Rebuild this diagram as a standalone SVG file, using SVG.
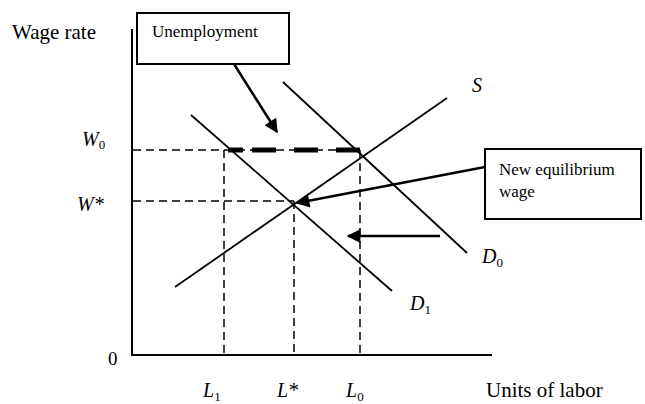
<svg xmlns="http://www.w3.org/2000/svg" width="645" height="404" viewBox="0 0 645 404">
<style>
text{font-family:"Liberation Serif","Times New Roman",serif;fill:#000}
.lbl{font-size:21px}
.box{fill:#fff;stroke:#000;stroke-width:2}
.bt{font-size:17px}
.it{font-style:italic;font-size:20px}
.sub{font-size:13px;font-style:normal}
.axis{stroke:#000;stroke-width:2;fill:none}
.curve{stroke:#000;stroke-width:1.8;fill:none}
.dash{stroke:#000;stroke-width:1.5;stroke-dasharray:8 5;fill:none}
.thick{stroke:#000;stroke-width:5;fill:none}
.arr{stroke:#000;stroke-width:2.5;fill:none}
</style>
<defs>
<marker id="ah" viewBox="0 0 10 10" refX="10" refY="5" markerWidth="7" markerHeight="5.5" orient="auto" markerUnits="userSpaceOnUse">
<path d="M0,0 L10,5 L0,10 z" fill="#000"/>
</marker>
<marker id="ah2" viewBox="0 0 10 10" refX="9" refY="5" markerWidth="6.5" markerHeight="5.5" orient="auto">
<path d="M0,0 L10,5 L0,10 z" fill="#000"/>
</marker>
</defs>
<rect width="645" height="404" fill="#fff"/>
<g id="axes">
<line class="axis" x1="132" y1="29" x2="132" y2="355"/>
<line class="axis" x1="131" y1="355" x2="492" y2="355"/>
<text class="lbl" x="12" y="39">Wage rate</text>
<text class="lbl" x="486" y="397">Units of labor</text>
<text class="lbl" x="108" y="365" style="font-size:19px">0</text>
</g>
<g id="guides">
<line class="dash" x1="133" y1="150" x2="360" y2="150"/>
<line class="dash" x1="133" y1="201" x2="294" y2="201"/>
<line class="dash" x1="224" y1="150" x2="224" y2="355"/>
<line class="dash" x1="294" y1="201" x2="294" y2="355"/>
<line class="dash" x1="360" y1="150" x2="360" y2="355"/>
<path class="thick" d="M228,150H243M252,150H276M294,150H318M336,150H360"/>
</g>
<g id="axis-labels">
<text class="it" x="82" y="146">W<tspan class="sub" dy="3">0</tspan></text>
<text class="it" x="77" y="211">W*</text>
<text class="it" x="203" y="397">L<tspan class="sub" dy="4">1</tspan></text>
<text class="it" x="277" y="397">L*</text>
<text class="it" x="346" y="397">L<tspan class="sub" dy="4">0</tspan></text>
</g>
<g id="curve-S">
<line class="curve" x1="175" y1="287" x2="447" y2="98"/>
<text class="it" x="472" y="92">S</text>
</g>
<g id="curve-D0">
<line class="curve" x1="283" y1="82" x2="467" y2="253"/>
<text class="it" x="482" y="263">D<tspan class="sub" dy="4">0</tspan></text>
</g>
<g id="curve-D1">
<line class="curve" x1="191" y1="115" x2="392" y2="291"/>
<text class="it" x="410" y="310">D<tspan class="sub" dy="4">1</tspan></text>
</g>
<g id="unemployment">
<rect class="box" x="137" y="13" width="152" height="51"/>
<text class="bt" x="152" y="37">Unemployment</text>
</g>
<g id="new-equilibrium">
<rect class="box" x="485" y="149" width="156" height="70"/>
<text class="bt" x="499" y="175">New equilibrium</text>
<text class="bt" x="499" y="197">wage</text>
</g>
<g id="connectors">
<line class="arr" x1="234" y1="64" x2="277" y2="132" marker-end="url(#ah2)"/>
<line class="arr" x1="485" y1="167" x2="297" y2="203" marker-end="url(#ah2)"/>
<line class="arr" x1="440" y1="236" x2="348" y2="236" marker-end="url(#ah2)"/>
</g>
</svg>
